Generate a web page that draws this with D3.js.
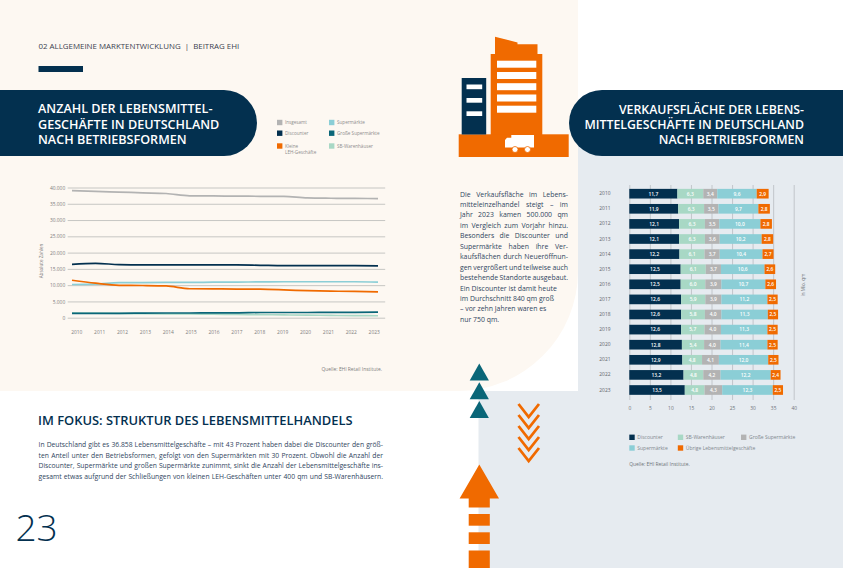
<!DOCTYPE html>
<html lang="de">
<head>
<meta charset="utf-8">
<title>Anzahl und Verkaufsfläche der Lebensmittelgeschäfte</title>
<script src="https://cdn.jsdelivr.net/npm/d3@7"></script>
<style>
	html, body { margin: 0; padding: 0; background: #fff; overflow: hidden; }
	svg { display: block; font-family: "Open Sans", sans-serif; }
	.domain { display: none; }
</style>
</head>
<body>
<div id="page"></div>
<script>
// Linienchart
const lineYears = ["2010", "2011", "2012", "2013", "2014", "2015", "2016", "2017", "2018", "2019", "2020", "2021", "2022", "2023"];
const lineTicks = [0, 5000, 10000, 15000, 20000, 25000, 30000, 35000, 40000];
const insgesamt = [39050, 38800, 38600, 38350, 38150, 37450, 37400, 37350, 37300, 37250, 36800, 36700, 36650, 36600];
const discounter = [16400, 16700, 16300, 16200, 16200, 16200, 16200, 16200, 16100, 16000, 16000, 16000, 16000, 15950];
const kleine = [11500, 10600, 9950, 9900, 9750, 8900, 8850, 8800, 8750, 8550, 8300, 8150, 8100, 7950];
const supermaerkte = [10200, 10300, 10800, 10800, 10850, 10850, 10900, 10950, 11000, 11050, 11050, 11050, 11050, 10900];
const grosse = [1350, 1350, 1350, 1400, 1450, 1450, 1500, 1500, 1600, 1600, 1600, 1650, 1650, 1700];
const warenhaeuser = [1500, 1400, 1300, 1250, 1200, 1150, 1100, 1000, 950, 850, 800, 700, 650, 600];

// Balkenchart, Mio. qm
const barYears = lineYears;
const barTicks = [0, 5, 10, 15, 20, 25, 30, 35, 40];
const flaecheDiscounter = [11.7, 11.9, 12.1, 12.1, 12.2, 12.5, 12.5, 12.6, 12.6, 12.6, 12.8, 12.9, 13.2, 13.5];
const flaecheWarenhaeuser = [6.3, 6.3, 6.3, 6.3, 6.1, 6.1, 6.0, 5.9, 5.8, 5.7, 5.4, 4.8, 4.8, 4.8];
const flaecheGrosse = [3.4, 3.5, 3.5, 3.6, 3.7, 3.7, 3.9, 3.9, 4.0, 4.0, 4.0, 4.1, 4.2, 4.3];
const flaecheSuper = [9.6, 9.7, 10.0, 10.2, 10.4, 10.6, 10.7, 11.2, 11.3, 11.3, 11.4, 12.0, 12.2, 12.3];
const flaecheUebrige = [2.9, 2.8, 2.8, 2.8, 2.7, 2.6, 2.6, 2.5, 2.5, 2.5, 2.5, 2.5, 2.4, 2.5];

const NAVY = "#03304f";
const ORANGE = "#f06a00";
const TEAL = "#0a6678";
const LIGHTBLUE = "#8bced6";
const MINT = "#a8d8c5";
const GREY = "#b3b3b3";
const CREAM = "#fdf8f2";
const PALE = "#e6ebf0";
const TEXT = "#2f4560";
const SMALL = "#7d7d7d";

const lineSeries = [
	{ name: "Insgesamt", values: insgesamt, color: GREY },
	{ name: "Supermärkte", values: supermaerkte, color: LIGHTBLUE },
	{ name: "Kleine LEH-Geschäfte", values: kleine, color: ORANGE },
	{ name: "Discounter", values: discounter, color: NAVY },
	{ name: "SB-Warenhäuser", values: warenhaeuser, color: MINT },
	{ name: "Große Supermärkte", values: grosse, color: TEAL },
];

const barSeries = [
	{ key: "Discounter", values: flaecheDiscounter, color: NAVY },
	{ key: "SB-Warenhäuser", values: flaecheWarenhaeuser, color: MINT },
	{ key: "Große Supermärkte", values: flaecheGrosse, color: GREY },
	{ key: "Supermärkte", values: flaecheSuper, color: LIGHTBLUE },
	{ key: "Übrige Lebensmittelgeschäfte", values: flaecheUebrige, color: ORANGE },
];

const svg = d3.select("#page").append("svg").attr("width", 843).attr("height", 568);
const deDE = d3.formatLocale({ decimal: ",", thousands: ".", grouping: [3], currency: ["", "€"] });

drawBackground();
drawHeader();
drawLineChart();
drawBarChart();
drawTexts();
drawIcons();

function drawBackground() {
	// Grauflaeche zuerst, Cremeflaeche mit runder Ecke darueber
	svg.append("path").attr("fill", PALE).attr("d", "M578,120H843V568H478.5V391H578Z");
	svg.append("path").attr("fill", CREAM).attr("d", "M0,0H578V271A120,120 0 0 1 458,391H0Z");
}

function pill(x, w, leftRound) {
	const r = 33;
	const y = 90;
	const h = 66;
	return leftRound
		? `M${x + w},${y}H${x + r}A${r},${r} 0 0 0 ${x + r},${y + h}H${x + w}Z`
		: `M${x},${y}H${x + w - r}A${r},${r} 0 0 1 ${x + w - r},${y + h}H${x}Z`;
}

function drawHeader() {
	svg.append("text").attr("x", 38.5).attr("y", 49).attr("font-size", 7.9).attr("font-weight", 500)
		.attr("fill", "#3b4150").attr("xml:space", "preserve")
		.text("02 ALLGEMEINE MARKTENTWICKLUNG  |  BEITRAG EHI");
	svg.append("rect").attr("x", 38.5).attr("y", 66).attr("width", 44.5).attr("height", 6).attr("fill", NAVY);

	svg.append("path").attr("fill", NAVY).attr("d", pill(0, 257, false));
	svg.append("path").attr("fill", NAVY).attr("d", pill(569, 274, true));

	const leftTitle = ["ANZAHL DER LEBENSMITTEL-", "GESCHÄFTE IN DEUTSCHLAND", "NACH BETRIEBSFORMEN"];
	svg.selectAll("text.title-left").data(leftTitle).join("text")
		.attr("class", "title-left")
		.attr("x", 38).attr("y", (d, i) => 113.2 + i * 15.3)
		.attr("font-size", 12.6).attr("font-weight", 600).attr("fill", "#fff")
		.text((d) => d);

	const rightTitle = ["VERKAUFSFLÄCHE DER LEBENS-", "MITTELGESCHÄFTE IN DEUTSCHLAND", "NACH BETRIEBSFORMEN"];
	svg.selectAll("text.title-right").data(rightTitle).join("text")
		.attr("class", "title-right")
		.attr("x", 804).attr("y", (d, i) => 113.6 + i * 15.4)
		.attr("text-anchor", "end")
		.attr("font-size", 12.3).attr("font-weight", 600).attr("fill", "#fff")
		.text((d) => d);
}

function drawLineChart() {
	const y = d3.scaleLinear().domain([0, 40000]).range([317.7, 187.5]);
	const x = d3.scalePoint().domain(lineYears).range([72, 378]);
	const xLabels = d3.scalePoint().domain(lineYears).range([76.3, 373.7]);

	const yAxis = d3.axisLeft(y).tickValues(lineTicks).tickFormat(deDE.format(",")).tickSize(-317.5).tickPadding(2.5);
	const gy = svg.append("g").attr("class", "y-axis").attr("transform", "translate(67.7,0)").call(yAxis);
	gy.selectAll("line").attr("stroke", "#c6c6c3").attr("stroke-width", 1);
	gy.selectAll("text").attr("font-size", 4.9).attr("fill", SMALL).attr("font-family", "Open Sans");

	const xAxis = d3.axisBottom(xLabels).tickSize(0).tickPadding(0);
	const gx = svg.append("g").attr("class", "x-axis").attr("transform", "translate(0,330.5)").call(xAxis);
	gx.selectAll("text").attr("font-size", 4.9).attr("fill", SMALL).attr("font-family", "Open Sans");

	const line = d3.line().x((d, i) => x(lineYears[i])).y((d) => y(d)).curve(d3.curveMonotoneX);
	svg.selectAll("path.series").data(lineSeries).join("path")
		.attr("class", "series")
		.attr("fill", "none")
		.attr("stroke", (d) => d.color)
		.attr("stroke-width", 1.7)
		.attr("d", (d) => line(d.values));

	svg.append("text").attr("transform", "translate(43,261) rotate(-90)")
		.attr("text-anchor", "middle").attr("font-size", 4.6).attr("fill", SMALL)
		.text("Absolute Zahlen");
	svg.append("text").attr("x", 382).attr("y", 371).attr("text-anchor", "end")
		.attr("font-size", 4.9).attr("fill", SMALL).text("Quelle: EHI Retail Institute.");

	const legend = [
		{ label: ["Insgesamt"], color: GREY, x: 277, y: 122.5 },
		{ label: ["Discounter"], color: NAVY, x: 277, y: 133.2 },
		{ label: ["Kleine", "LEH-Geschäfte"], color: ORANGE, x: 277, y: 146 },
		{ label: ["Supermärkte"], color: LIGHTBLUE, x: 329, y: 122.5 },
		{ label: ["Große Supermärkte"], color: TEAL, x: 329, y: 133.2 },
		{ label: ["SB-Warenhäuser"], color: MINT, x: 329, y: 146 },
	];
	drawLegend(legend, 5.4, 8, 4.6, "#8d8d8d");
}

function drawLegend(items, box, gap, fontSize, color) {
	const g = svg.append("g").attr("class", "legend").selectAll("g").data(items).join("g")
		.attr("transform", (d) => `translate(${d.x},${d.y})`);
	g.append("rect").attr("x", 0).attr("y", -box / 2).attr("width", box).attr("height", box)
		.attr("fill", (d) => d.color);
	g.selectAll("text").data((d) => d.label).join("text")
		.attr("x", gap).attr("y", (d, i) => i * 6.4 + fontSize * 0.36)
		.attr("font-size", fontSize).attr("fill", color)
		.text((d) => d);
}

function drawBarChart() {
	const x = d3.scaleLinear().domain([0, 40]).range([629.3, 793.7]);
	const y = d3.scaleBand().domain(barYears).range([186.15, 397.55]).paddingInner(0.36).paddingOuter(0.18);

	const xAxis = d3.axisBottom(x).tickValues(barTicks).tickSize(-215).tickPadding(6.5);
	const gx = svg.append("g").attr("class", "x-axis").attr("transform", "translate(0,400)").call(xAxis);
	gx.selectAll("line").attr("stroke", "#b9bdc1").attr("stroke-width", 0.8);
	gx.selectAll("text").attr("font-size", 4.9).attr("fill", "#6f7478").attr("font-family", "Open Sans");

	const yAxis = d3.axisLeft(y).tickSize(0).tickPadding(0);
	const gy = svg.append("g").attr("class", "y-axis").attr("transform", "translate(610.5,0)").call(yAxis);
	gy.selectAll("text").attr("font-size", 4.9).attr("fill", "#5f6468").attr("font-family", "Open Sans");

	const table = barYears.map((year, i) => {
		const row = { year };
		for (const s of barSeries) row[s.key] = s.values[i];
		return row;
	});
	const stacked = d3.stack().keys(barSeries.map((s) => s.key))(table);

	const layers = svg.selectAll("g.layer").data(stacked).join("g")
		.attr("class", "layer")
		.attr("fill", (d, i) => barSeries[i].color);

	layers.selectAll("rect").data((d) => d).join("rect")
		.attr("x", (d) => x(d[0]))
		.attr("y", (d) => y(d.data.year))
		.attr("width", (d) => x(d[1]) - x(d[0]))
		.attr("height", y.bandwidth());

	layers.selectAll("text").data((d) => d.map((v) => ({ v, key: d.key }))).join("text")
		.attr("x", (d) => (x(d.v[0]) + x(d.v[1])) / 2)
		.attr("y", (d) => y(d.v.data.year) + y.bandwidth() / 2 + 1.8)
		.attr("text-anchor", "middle")
		.attr("font-size", 4.9)
		.attr("font-weight", 600)
		.attr("fill", "#fff")
		.text((d) => deDE.format(".1f")(d.v.data[d.key]));

	svg.append("text").attr("transform", "translate(805,285) rotate(-90)")
		.attr("text-anchor", "middle").attr("font-size", 4.6).attr("fill", "#6f7478")
		.text("in Mio. qm");
	svg.append("text").attr("x", 629.3).attr("y", 466)
		.attr("font-size", 4.9).attr("fill", "#6f7478").text("Quelle: EHI Retail Institute.");

	const legend = [
		{ label: ["Discounter"], color: NAVY, x: 629.3, y: 437.3 },
		{ label: ["SB-Warenhäuser"], color: MINT, x: 677.8, y: 437.3 },
		{ label: ["Große Supermärkte"], color: GREY, x: 741, y: 437.3 },
		{ label: ["Supermärkte"], color: LIGHTBLUE, x: 629.3, y: 448 },
		{ label: ["Übrige Lebensmittelgeschäfte"], color: ORANGE, x: 677.8, y: 448 },
	];
	drawLegend(legend, 5.4, 8, 5, "#7f888e");
}

// Blocksatz ueber word-spacing
function justified(lines, x, top, step, width, fontSize, lastFull) {
	const sel = svg.append("g").selectAll("text").data(lines).join("text")
		.attr("x", x).attr("y", (d, i) => top + i * step)
		.attr("font-size", fontSize).attr("fill", TEXT)
		.text((d) => d);
	sel.each(function (d, i) {
		if (i >= lastFull) return;
		const spaces = d.split(" ").length - 1;
		const w = this.getComputedTextLength();
		if (spaces > 0) d3.select(this).attr("word-spacing", (width - w) / spaces);
	});
}

function drawTexts() {
	justified([
		"Die Verkaufsfläche im Lebens-",
		"mitteleinzelhandel steigt – im",
		"Jahr 2023 kamen 500.000 qm",
		"im Vergleich zum Vorjahr hinzu.",
		"Besonders die Discounter und",
		"Supermärkte haben ihre Ver-",
		"kaufsflächen durch Neueröffnun-",
		"gen vergrößert und teilweise auch",
		"bestehende Standorte ausgebaut.",
		"Ein Discounter ist damit heute",
		"im Durchschnitt 840 qm groß",
		"– vor zehn Jahren waren es",
		"nur 750 qm.",
	], 460, 196.5, 10.45, 108, 6.9, 9);

	svg.append("text").attr("x", 38).attr("y", 424.5)
		.attr("font-size", 12.9).attr("font-weight", 600).attr("fill", NAVY)
		.text("IM FOKUS: STRUKTUR DES LEBENSMITTELHANDELS");

	justified([
		"In Deutschland gibt es 36.858 Lebensmittelgeschäfte – mit 43 Prozent haben dabei die Discounter den größ-",
		"ten Anteil unter den Betriebsformen, gefolgt von den Supermärkten mit 30 Prozent. Obwohl die Anzahl der",
		"Discounter, Supermärkte und großen Supermärkte zunimmt, sinkt die Anzahl der Lebensmittelgeschäfte ins-",
		"gesamt etwas aufgrund der Schließungen von kleinen LEH-Geschäften unter 400 qm und SB-Warenhäusern.",
	], 38.5, 447.3, 10.55, 344.5, 6.75, 4);

	svg.append("text").attr("x", 15.5).attr("y", 541)
		.attr("font-size", 37).attr("font-weight", 300).attr("fill", NAVY)
		.text("23");
}

function drawIcons() {
	const icon = svg.append("g").attr("class", "icon");
	icon.append("path").attr("fill", ORANGE)
		.attr("d", "M495,36.7L517.5,42.5V44.3H537.5V54H542.3V135H490.7V54H495Z");
	icon.append("rect").attr("x", 458.7).attr("y", 134.3).attr("width", 110).attr("height", 22.7).attr("fill", ORANGE);
	icon.append("rect").attr("x", 461.7).attr("y", 78).attr("width", 24.5).attr("height", 56.5).attr("fill", NAVY);

	const bigWindows = [60.7, 72, 83.2, 94.5, 105.7];
	icon.selectAll("rect.big").data(bigWindows).join("rect")
		.attr("class", "big").attr("x", 497).attr("y", (d) => d)
		.attr("width", 39.3).attr("height", 7).attr("fill", "#fff");
	const smallWindows = [84.5, 98, 111.3];
	icon.selectAll("rect.small").data(smallWindows).join("rect")
		.attr("class", "small").attr("x", 466.5).attr("y", (d) => d)
		.attr("width", 15.7).attr("height", 4.7).attr("fill", "#fff");

	// Lkw
	icon.append("path").attr("fill", "#fff").attr("d", "M511.3,135H534V147.5H505V140L507,137.8H511.3Z");
	icon.selectAll("circle").data([515, 527.5]).join("circle")
		.attr("cx", (d) => d).attr("cy", 149.5).attr("r", 3)
		.attr("fill", "#fff").attr("stroke", ORANGE).attr("stroke-width", 0.8);

	// Dreiecke
	svg.append("g").selectAll("path").data([363.5, 382.2, 400.9]).join("path")
		.attr("fill", TEAL)
		.attr("d", (d) => `M479.3,${d}L488.9,${d + 17}H469.7Z`);

	// Chevrons
	svg.append("g").selectAll("path").data([404, 415, 426, 437, 448]).join("path")
		.attr("fill", "none").attr("stroke", ORANGE).attr("stroke-width", 2.8)
		.attr("d", (d) => `M518.5,${d}L528.7,${d + 13}L539,${d}`);

	// Grosser Pfeil
	const arrow = svg.append("g").attr("fill", ORANGE);
	arrow.append("path").attr("d", "M479.3,464.5L499,498.5H489.8V507.5H468.7V498.5H459.6Z");
	arrow.selectAll("rect").data([[514, 11.7], [532.3, 11.7], [550.5, 17.5]]).join("rect")
		.attr("x", 468.7).attr("y", (d) => d[0]).attr("width", 21.1).attr("height", (d) => d[1]);
}
</script>
</body>
</html>
